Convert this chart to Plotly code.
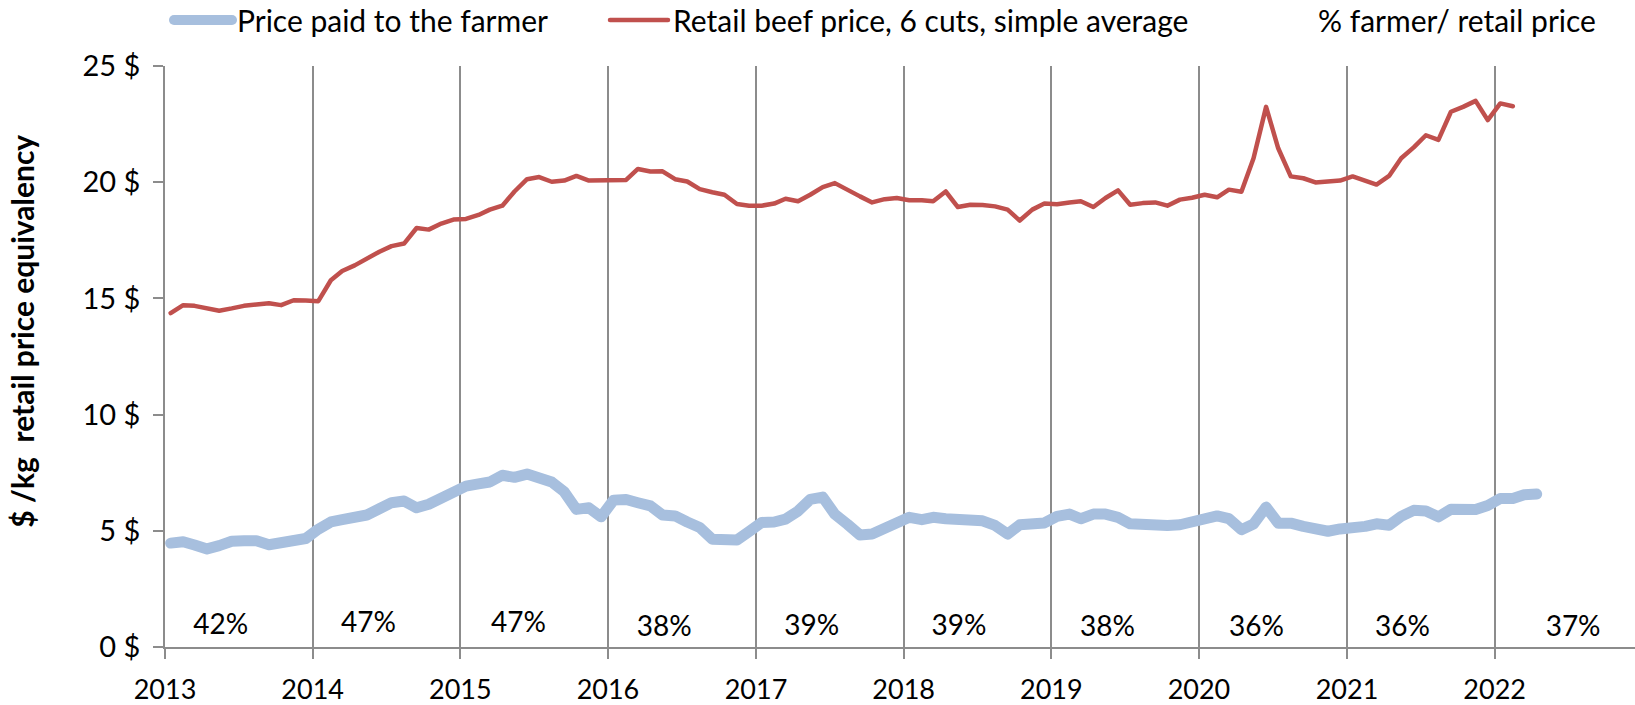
import pandas as pd
import plotly.graph_objects as go

# Monthly series, Jan 2013 onward ($/kg, retail price equivalency)
farmer_price = [
    4.47, 4.53, 4.39, 4.22, 4.36, 4.55, 4.57, 4.57, 4.40, 4.46, 4.57, 4.67,
    5.07, 5.38, 5.48, 5.57, 5.68, 5.95, 6.21, 6.28, 5.99, 6.14, 6.39, 6.70,
    6.92, 7.02, 7.10, 7.39, 7.30, 7.44, 7.33, 7.10, 6.68, 5.92, 5.99, 5.60,
    6.32, 6.35, 6.21, 6.07, 5.68, 5.64, 5.38, 5.14, 4.64, 4.60, 4.60, 4.97,
    5.36, 5.38, 5.50, 5.85, 6.35, 6.45, 5.71, 5.28, 4.82, 4.86, 5.14, 5.28,
    5.58, 5.48, 5.58, 5.52, 5.49, 5.45, 5.43, 5.23, 4.86, 5.26, 5.34, 5.34,
    5.62, 5.72, 5.52, 5.72, 5.72, 5.58, 5.30, 5.26, 5.25, 5.23, 5.26, 5.38,
    5.56, 5.64, 5.52, 5.05, 5.29, 6.02, 5.33, 5.33, 5.19, 5.08, 4.98, 5.08,
    5.08, 5.19, 5.30, 5.24, 5.62, 5.88, 5.85, 5.60, 5.93, 5.95, 5.92, 6.09,
    6.39, 6.39, 6.55, 6.58,
]

retail_price = [
    14.37, 14.71, 14.68, 14.59, 14.47, 14.57, 14.68, 14.74, 14.79, 14.71, 14.92, 14.91,
    14.88, 15.78, 16.18, 16.42, 16.72, 17.01, 17.25, 17.36, 18.03, 17.96, 18.22, 18.39,
    18.42, 18.59, 18.82, 18.99, 19.60, 20.13, 20.22, 20.02, 20.07, 20.27, 20.07, 20.07,
    20.07, 20.10, 20.57, 20.46, 20.47, 20.13, 20.03, 19.70, 19.57, 19.46, 19.06, 18.99,
    18.99, 19.08, 19.29, 19.18, 19.46, 19.79, 19.96, 19.65, 19.39, 19.13, 19.27, 19.32,
    19.22, 19.22, 19.18, 19.60, 18.93, 19.03, 19.02, 18.96, 18.82, 18.35, 18.82, 19.08,
    19.05, 19.13, 19.18, 18.93, 19.32, 19.65, 19.03, 19.10, 19.13, 18.99, 19.25, 19.33,
    19.46, 19.35, 19.68, 19.59, 21.03, 23.24, 21.46, 20.25, 20.17, 19.99, 20.02, 20.07,
    20.25, 20.07, 19.90, 20.27, 21.03, 21.50, 22.02, 21.82, 23.03, 23.24, 23.50, 22.67,
    23.39, 23.27,
]

# Annual farmer share of the retail price (%)
share_pct = [42, 47, 47, 38, 39, 39, 38, 36, 36, 37]
share_dates = ["2013-05-19", "2014-05-19", "2015-05-25", "2016-05-19", "2017-05-19",
               "2018-05-18", "2019-05-20", "2020-05-22", "2021-05-18", "2022-07-14"]

year_ticks = [str(y) for y in range(2013, 2023)]
price_ticks = [0, 5, 10, 15, 20, 25]

# Observations are dated mid-month
def mid_month(n):
    return pd.date_range("2013-01-01", periods=n, freq="MS") + pd.Timedelta(days=14)

FONT = "Lato, 'Open Sans', sans-serif"
BLUE = "#A7BFDE"
RED = "#C0504D"
GRID = "#8C8C8C"

fig = go.Figure()

fig.add_trace(go.Scatter(
    x=mid_month(len(farmer_price)), y=farmer_price, mode="lines",
    name="Price paid to the farmer",
    line=dict(color=BLUE, width=11), legend="legend",
))
fig.add_trace(go.Scatter(
    x=mid_month(len(retail_price)), y=retail_price, mode="lines",
    name="Retail beef price, 6 cuts, simple average",
    line=dict(color=RED, width=4.5), legend="legend2",
))
# legend entry for the share labels (text only)
fig.add_trace(go.Scatter(
    x=[None], y=[None], mode="lines", name="% farmer/ retail price",
    line=dict(color="rgba(0,0,0,0)", width=0), legend="legend3",
))
fig.add_trace(go.Scatter(
    x=share_dates, y=share_pct, mode="text", yaxis="y2",
    text=[f"{v}%" for v in share_pct], textposition="middle center",
    textfont=dict(family=FONT, size=28, color="#000000"),
    showlegend=False, hoverinfo="skip",
))

legend_common = dict(
    orientation="h", xref="container", yref="container",
    xanchor="left", yanchor="middle", y=1 - 20 / 705,
    font=dict(family=FONT, size=30, color="#000000"),
    bgcolor="rgba(0,0,0,0)", borderwidth=0, itemwidth=58,
)

fig.update_layout(
    width=1635, height=705,
    margin=dict(l=165, r=0, t=66, b=55),
    paper_bgcolor="white", plot_bgcolor="white",
    font=dict(family=FONT, size=27, color="#000000"),
    legend=dict(legend_common, x=169 / 1635),
    legend2=dict(legend_common, x=605 / 1635),
    legend3=dict(legend_common, x=1250 / 1635),
    xaxis=dict(
        type="date",
        range=["2013-01-01", "2022-12-14"],
        tickvals=[f"{y}-01-01" for y in year_ticks],
        ticktext=year_ticks,
        showgrid=True, gridcolor=GRID, gridwidth=1.5,
        showline=True, linecolor=GRID, linewidth=1.5,
        ticks="outside", ticklen=10, tickwidth=1.5, tickcolor=GRID,
        ticklabelstandoff=8,
        tickfont=dict(family=FONT, size=27, color="#000000"),
        zeroline=False,
    ),
    yaxis=dict(
        range=[0, 25],
        tickvals=price_ticks,
        ticktext=[f"{v} $" for v in price_ticks],
        showgrid=False, zeroline=False,
        showline=True, linecolor=GRID, linewidth=1.5,
        ticks="outside", ticklen=10, tickwidth=1.5, tickcolor=GRID,
        ticklabelstandoff=7,
        tickfont=dict(family=FONT, size=29, color="#000000"),
    ),
    yaxis2=dict(overlaying="y", range=[-7.3, 1428], visible=False),
    annotations=[dict(
        text="$ /kg\u00a0 retail price equivalency",
        xref="paper", yref="paper",
        x=(22 - 165) / 1470, y=(650 - 333) / 584,
        xanchor="center", yanchor="middle", textangle=-90, showarrow=False,
        font=dict(family=FONT, size=30, color="#000000", weight="bold"),
    )],
    hovermode=False,
)

fig.write_html(
    "out.html",
    post_script="document.head.insertAdjacentHTML('beforeend',"
                "'<style>.js-line{stroke-linecap:round;stroke-linejoin:round}</style>');",
)
